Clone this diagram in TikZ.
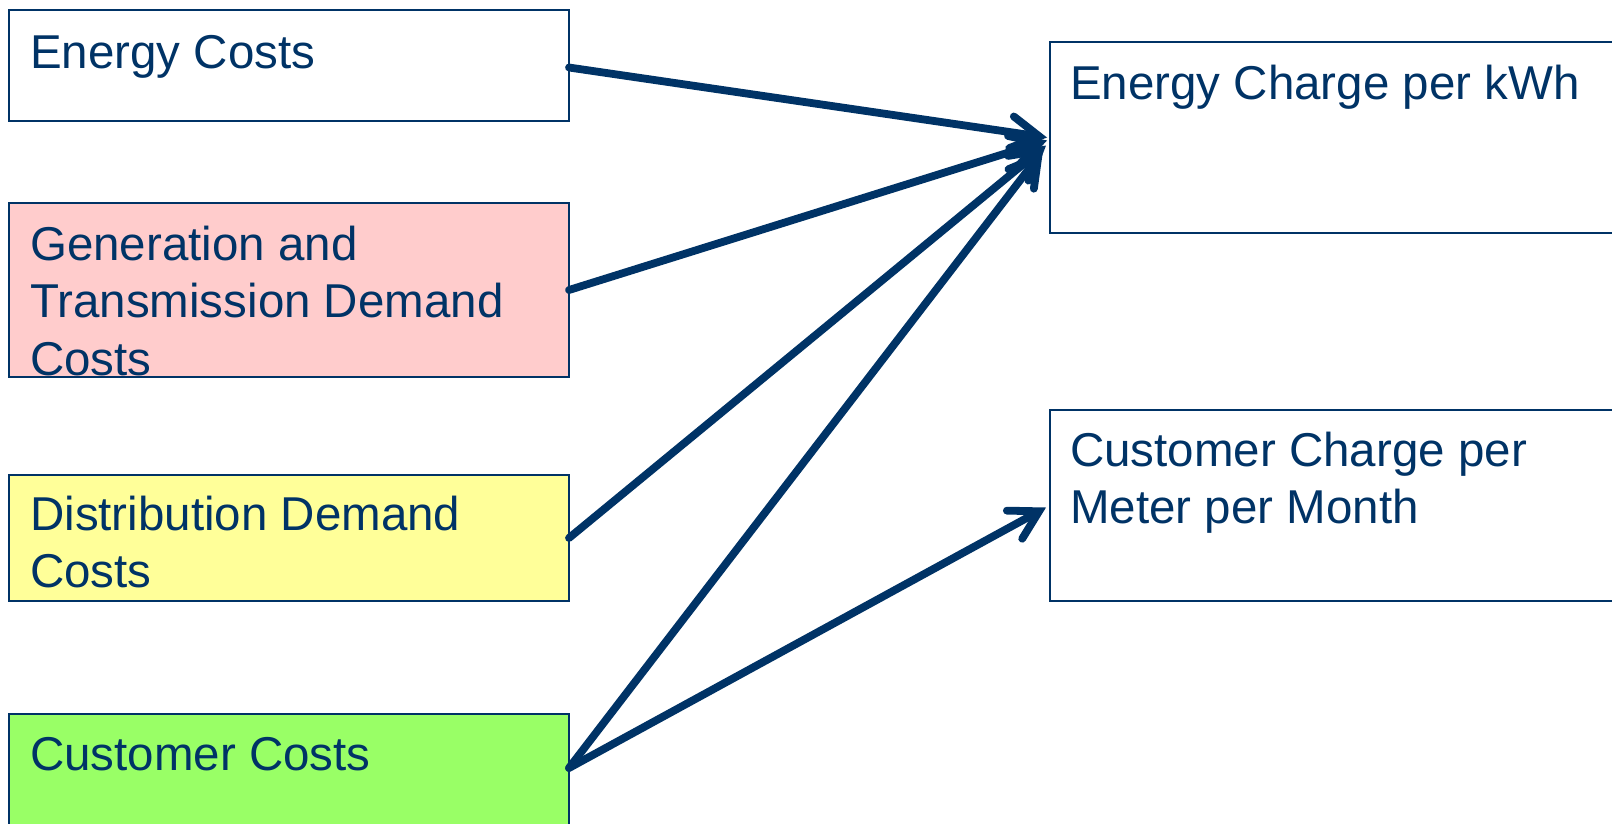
\documentclass[tikz,border=0pt]{standalone}
\usepackage{fontspec}
\setmainfont{Liberation Sans}
\usetikzlibrary{arrows.meta,calc}
\definecolor{navy}{HTML}{003366}
\definecolor{pinkfill}{HTML}{FFCCCC}
\definecolor{yellowfill}{HTML}{FFFF99}
\definecolor{greenfill}{HTML}{99FF66}
\begin{document}
\begin{tikzpicture}[x=1pt,y=-1pt,
  box/.style={draw=navy, line width=2pt, anchor=north west, inner sep=0pt, outer sep=0pt},
  lbl/.style={anchor=base west, align=left, text=navy, font=\fontsize{47.5}{57.5}\selectfont, inner sep=0pt},
  conn/.style={draw=navy, line width=7.8pt, line cap=round, -{Straight Barb[length=28pt,width=32pt,line cap=round]}}]
\useasboundingbox (0,0) rectangle (1612,823);
\clip (0,0) rectangle (1612,823);
\fill[white] (0,0) rectangle (1612,823);
% source boxes
\node[box, fill=white, minimum width=560pt, minimum height=111pt] (ec) at (9,10) {};
\node[box, fill=pinkfill, minimum width=560pt, minimum height=174pt] (gt) at (9,203) {};
\node[box, fill=yellowfill, minimum width=560pt, minimum height=126pt] (dd) at (9,475) {};
\node[box, fill=greenfill, minimum width=560pt, minimum height=140pt] (cc) at (9,714) {};
% target boxes
\node[box, fill=white, minimum width=600pt, minimum height=191pt] (ech) at (1050,42) {};
\node[box, fill=white, minimum width=600pt, minimum height=191pt] (cch) at (1050,410) {};
% labels (base anchor = baseline of the last line)
\node[lbl] (ecT) at ($(ec.north west)+(21,58)$) {Energy Costs};
\node[lbl] (gtT) at ($(gt.north west)+(21,172)$) {Generation and\\Transmission Demand\\Costs};
\node[lbl] (ddT) at ($(dd.north west)+(21,112.5)$) {Distribution Demand\\Costs};
\node[lbl] (ccT) at ($(cc.north west)+(21,56)$) {Customer Costs};
\node[lbl] (echT) at ($(ech.north west)+(20,57)$) {Energy Charge per kWh};
\node[lbl] (cchT) at ($(cch.north west)+(20,113.5)$) {Customer Charge per\\Meter per Month};
% anchor points
\coordinate (ccE) at ($(cc.north east)+(0,54)$);
% connectors
\draw[conn] ($(ec.east)+(0,2)$) -- ($(ech.west)+(-3,0)$);
\draw[conn] (gt.east) -- ($(ech.west)+(-3,3)$);
\draw[conn] (dd.east) -- ($(ech.west)+(-4,8)$);
\draw[conn] (ccE) -- ($(ech.west)+(-7,13)$);
\draw[conn] (ccE) -- ($(cch.west)+(-4,2)$);
\end{tikzpicture}
\end{document}
